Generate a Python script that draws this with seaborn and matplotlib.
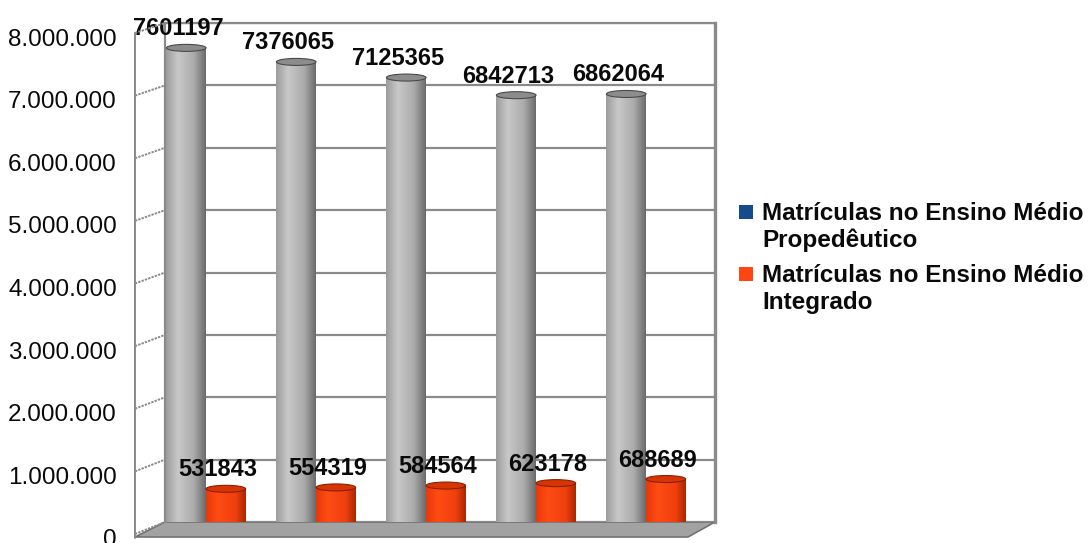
import numpy as np
import pandas as pd
import matplotlib
matplotlib.use("Agg")
import matplotlib.pyplot as plt
import seaborn as sns
from matplotlib.patches import Ellipse, Polygon, Rectangle
from matplotlib.lines import Line2D
from matplotlib.colors import LinearSegmentedColormap

# ---- data -------------------------------------------------------------
periodos = ["1", "2", "3", "4", "5"]
propedeutico = [7601197, 7376065, 7125365, 6842713, 6862064]
integrado = [531843, 554319, 584564, 623178, 688689]
series = ["Matrículas no Ensino Médio\nPropedêutico",
          "Matrículas no Ensino Médio\nIntegrado"]
yticks = [0, 1000000, 2000000, 3000000, 4000000, 5000000, 6000000, 7000000, 8000000]
ytick_labels = ["0", "1.000.000", "2.000.000", "3.000.000", "4.000.000",
                "5.000.000", "6.000.000", "7.000.000", "8.000.000"]

# ---- style ------------------------------------------------------------
sns.set_theme(style="white")
plt.rcParams["font.family"] = ["Liberation Sans", "DejaVu Sans"]

GREY = "#b4b4b4"
ORANGE = "#ff4510"
LEG_BLUE = "#144b8a"
WALL = "#8a8a8a"
INK = "#0a0a0a"

W, H = 1090, 543
fig = plt.figure(figsize=(W / 100, H / 100), dpi=100)


def fx(px):
    return px / W


def fy(py):
    return 1 - py / H


# back wall (bars + gridlines) and front scale (tick labels)
back = dict(left=165, right=715, top=23, bottom=522)
front = dict(left=135, top=37, bottom=538)

ax = fig.add_axes([fx(back["left"]), fy(back["bottom"]),
                   fx(back["right"]) - fx(back["left"]),
                   fy(back["top"]) - fy(back["bottom"])])
axf = fig.add_axes([fx(front["left"]), fy(front["bottom"]),
                    0.01, fy(front["top"]) - fy(front["bottom"])],
                   facecolor="none", zorder=0)

# floor of the chart
floor = Polygon([(fx(165), fy(522)), (fx(715), fy(522)),
                 (fx(688), fy(537)), (fx(135), fy(537))],
                closed=True, transform=fig.transFigure,
                facecolor="#a2a2a2", edgecolor="#727272", lw=1.2, zorder=-1)
fig.patches.append(floor)

df = pd.DataFrame({
    "periodo": periodos * 2,
    "serie": [series[0]] * len(periodos) + [series[1]] * len(periodos),
    "valor": propedeutico + integrado,
})

sns.barplot(data=df, x="periodo", y="valor", hue="serie",
            palette=[GREY, ORANGE], width=0.72, saturation=1,
            legend=False, ax=ax, zorder=3)

ax.set_facecolor("none")
ax.set_yticks(yticks)
ax.set_yticklabels([])
ax.set_xticks([])
ax.set_xlabel("")
ax.set_ylabel("")
ax.tick_params(length=0)
ax.yaxis.grid(True, color=WALL, lw=1.6)
ax.set_axisbelow(True)
for side in ("left", "top", "right"):
    ax.spines[side].set_visible(True)
    ax.spines[side].set_color(WALL)
    ax.spines[side].set_linewidth(1.6)
ax.spines["bottom"].set_visible(False)
ax.spines["right"].set_linewidth(2.4)

# cylinder shading for every bar
grey_cmap = LinearSegmentedColormap.from_list(
    "cyl_grey", [(0, "#9c9c9c"), (0.3, "#c8c8c8"), (0.7, "#ababab"), (1, "#6a6a6a")])
orange_cmap = LinearSegmentedColormap.from_list(
    "cyl_orange", [(0, "#e8380a"), (0.3, "#ff4c14"), (0.75, "#ee3f0e"), (1, "#a82800")])
grad = np.linspace(0, 1, 256).reshape(1, -1)
px_per_unit = (back["bottom"] - back["top"]) / 8000000
cap_h = 7 / px_per_unit

for patch in list(ax.patches):
    x0, w, h = patch.get_x(), patch.get_width(), patch.get_height()
    is_grey = np.allclose(patch.get_facecolor()[:3], matplotlib.colors.to_rgb(GREY))
    cmap = grey_cmap if is_grey else orange_cmap
    img = ax.imshow(grad, extent=[x0, x0 + w, 0, h], aspect="auto",
                    cmap=cmap, zorder=3.1, interpolation="bilinear")
    img.set_clip_path(patch)
    cap = Ellipse((x0 + w / 2, h), w, cap_h,
                  facecolor="#8c8c8c" if is_grey else "#d83506",
                  edgecolor="#4a4a4a" if is_grey else "#8a2000",
                  lw=0.8, zorder=3.2)
    ax.add_patch(cap)
    patch.set_edgecolor("none")

ax.set_xlim(-0.373, 4.627)
ax.set_ylim(0, 8000000)

# value labels
bars = ax.patches[:len(propedeutico) * 2]
for patch, v in zip(bars, propedeutico + integrado):
    xc = patch.get_x() + patch.get_width() / 2
    ax.annotate(f"{v}", (xc, v), xytext=(-8, 19), textcoords="offset pixels",
                ha="center", va="center", fontsize=17, fontweight="bold",
                color=INK, zorder=5, annotation_clip=False)

# front scale for the tick labels
axf.set_ylim(0, 8000000)
axf.set_yticks(yticks)
axf.set_yticklabels(ytick_labels, fontsize=17.5, color=INK)
axf.set_xticks([])
axf.tick_params(axis="y", length=0, pad=13)
for s in axf.spines.values():
    s.set_visible(False)


# left side wall: front edge and slanted gridlines
def ypix_back(v):
    return back["bottom"] - (back["bottom"] - back["top"]) * v / 8000000


def ypix_front(v):
    return front["bottom"] - (front["bottom"] - front["top"]) * v / 8000000


fig.lines.append(Line2D([fx(135), fx(135)], [fy(33), fy(538)],
                        transform=fig.transFigure, color=WALL, lw=1.4))
for v in yticks:
    fig.lines.append(Line2D([fx(135), fx(165)], [fy(ypix_front(v) - 4), fy(ypix_back(v))],
                            transform=fig.transFigure, color=WALL, lw=1.4,
                            linestyle=(0, (1.2, 0.6))))

# legend: square key aligned with the first line of each entry
legend_colors = [LEG_BLUE, ORANGE]
legend_tops = [202, 264]
for label, color, top in zip(series, legend_colors, legend_tops):
    fig.patches.append(Rectangle((fx(739), fy(top + 17)), fx(14), 14 / H,
                                 transform=fig.transFigure,
                                 facecolor=color, edgecolor="none"))
    fig.text(fx(762), fy(top), label, ha="left", va="top",
             fontsize=17.5, fontweight="bold", color=INK, linespacing=1.2)

fig.savefig("out.png", dpi=100)
